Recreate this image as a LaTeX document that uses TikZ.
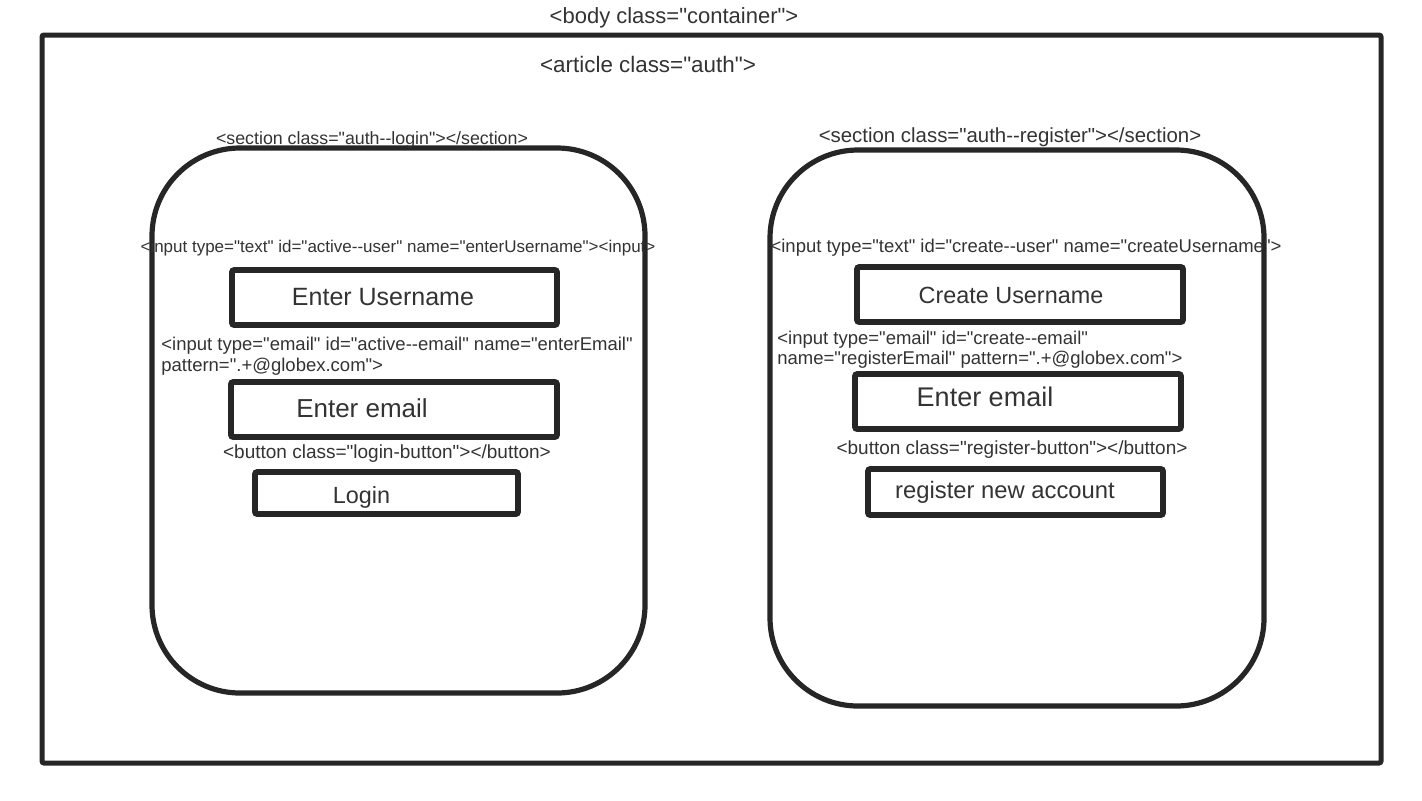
\documentclass[tikz,border=0pt]{standalone}
\usepackage{fontspec}
\setmainfont{Liberation Sans}[Ligatures=TeXOff]
\definecolor{ink}{HTML}{262626}
\definecolor{txt}{HTML}{333333}
\tikzset{
  wall/.style={draw=ink, line width=2.5pt, rounded corners=1pt},
  sect/.style={draw=ink, line width=2.6pt, rounded corners=44pt},
  field/.style={draw=ink, line width=2.8pt, rounded corners=1pt},
  tag/.style={text=txt, inner sep=0pt, yshift=-1pt, font=\fontsize{9.25}{10.5}\selectfont},
  caption/.style={text=txt, inner sep=0pt, font=\fontsize{12.5}{15}\selectfont},
}
\begin{document}
\begin{tikzpicture}[x=0.5pt,y=-0.5pt]
      \useasboundingbox (0,0) rectangle (1422,800);
      \draw [wall] (42,35) rectangle (1381,763);
      \node [tag, font=\fontsize{11}{13}\selectfont] (body) at (674,16) {<body class="container">};
      \node [tag, font=\fontsize{11.2}{13}\selectfont] (article) at (648,62) {<article class="auth">};
      \draw [sect] (152,148) rectangle (645,693);
      \node [tag, font=\fontsize{8.9}{10}\selectfont] (loginsec) at (372,138) {<section class="auth--login"></section>};
      \node [tag, font=\fontsize{8.5}{10}\selectfont] (loginuser) at (398,246) {<input type="text" id="active--user" name="enterUsername"><input>};
      \draw [field] (232,270) rectangle (557,325);
      \node [caption] (loginusertxt) at (383,297.5) {Enter Username};
      \node [tag, anchor=west, align=left] (loginmail) at (161,354.5) {<input type="email" id="active--email" name="enterEmail"\\pattern=".+@globex.com">};
      \draw [field] (231,382) rectangle (557,437);
      \node [caption, font=\fontsize{13}{15}\selectfont] (loginmailtxt) at (362,408) {Enter email};
      \node [tag, font=\fontsize{9.5}{11}\selectfont] (loginbtn) at (387,452) {<button class="login-button"></button>};
      \draw [field] (255,472) rectangle (518,514);
      \node [caption, font=\fontsize{11.7}{14}\selectfont] (loginbtntxt) at (361.5,497) {Login};
      \draw [sect] (770,150) rectangle (1264,706);
      \node [tag, font=\fontsize{10.2}{12}\selectfont] (regsec) at (1010,135) {<section class="auth--register"></section>};
      \node [tag] (reguser) at (1026,246) {<input type="text" id="create--user" name="createUsername">};
      \draw [field] (857,267) rectangle (1183,322);
      \node [caption, font=\fontsize{11.7}{14}\selectfont] (regusertxt) at (1011,295) {Create Username};
      \node [tag, anchor=west, align=left, font=\fontsize{9.25}{10}\selectfont] (regmail) at (777,348) {<input type="email" id="create--email"\\name="registerEmail" pattern=".+@globex.com">};
      \draw [field] (855,374) rectangle (1181,429);
      \node [caption, font=\fontsize{13.5}{16}\selectfont] (regmailtxt) at (985,397) {Enter email};
      \node [tag, font=\fontsize{9.5}{11}\selectfont] (regbtn) at (1012,448) {<button class="register-button"></button>};
      \draw [field] (868,469) rectangle (1163,515);
      \node [caption, font=\fontsize{11.9}{14}\selectfont] (regbtntxt) at (1005,492) {register new account};
    \end{tikzpicture}
\end{document}
